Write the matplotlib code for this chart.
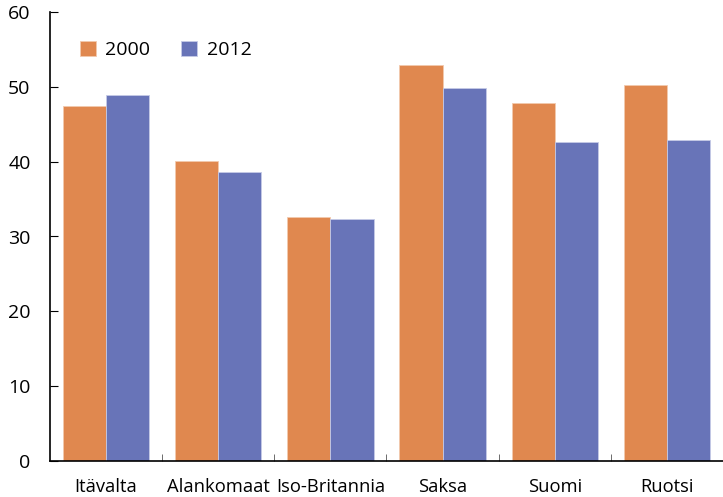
import matplotlib
matplotlib.use("Agg")
import matplotlib.pyplot as plt
import numpy as np

countries = ["Itävalta", "Alankomaat", "Iso-Britannia", "Saksa", "Suomi", "Ruotsi"]
values_2000 = [47.4, 40.1, 32.6, 52.9, 47.9, 50.2]
values_2012 = [48.9, 38.6, 32.3, 49.8, 42.6, 42.9]
series_labels = ["2000", "2012"]
yticks = [0, 10, 20, 30, 40, 50, 60]

plt.rcParams["font.family"] = ["Open Sans", "DejaVu Sans"]

W, H = 723, 497
fig = plt.figure(figsize=(W / 100, H / 100), dpi=100)
ax = fig.add_axes([50 / W, 36 / H, 673 / W, 449 / H])

x = np.arange(len(countries))
bw = 0.385
orange = "#E0884F"
blue = "#6874B8"
ax.bar(x - bw / 2, values_2000, width=bw, color=orange, edgecolor="#F2C9AE",
       linewidth=0.6, label=series_labels[0])
ax.bar(x + bw / 2, values_2012, width=bw, color=blue, edgecolor="#C5CAE6",
       linewidth=0.6, label=series_labels[1])

ax.set_xlim(-0.5, len(countries) - 0.5)
ax.set_ylim(0, 60)
ax.set_yticks(yticks)
ax.set_yticklabels([str(v) for v in yticks], fontsize=14)
ax.tick_params(axis="y", direction="in", length=6, width=0.8, pad=14)

ax.set_xticks(x)
ax.set_xticklabels(countries, fontsize=13.2)
ax.tick_params(axis="x", which="major", length=0, pad=12)
ax.set_xticks(np.arange(0.5, len(countries) - 0.5, 1), minor=True)
ax.tick_params(axis="x", which="minor", direction="in", length=5, width=0.6,
               color="#555555")

for s in ["top", "right"]:
    ax.spines[s].set_visible(False)
for s in ["left", "bottom"]:
    ax.spines[s].set_linewidth(1.2)

ax.legend(loc="upper left", bbox_to_anchor=(0.018, 0.975), ncol=2, frameon=False,
          fontsize=14, handlelength=0.82, handleheight=0.82, handletextpad=0.5,
          columnspacing=1.6)

fig.savefig("out.png", dpi=100)
